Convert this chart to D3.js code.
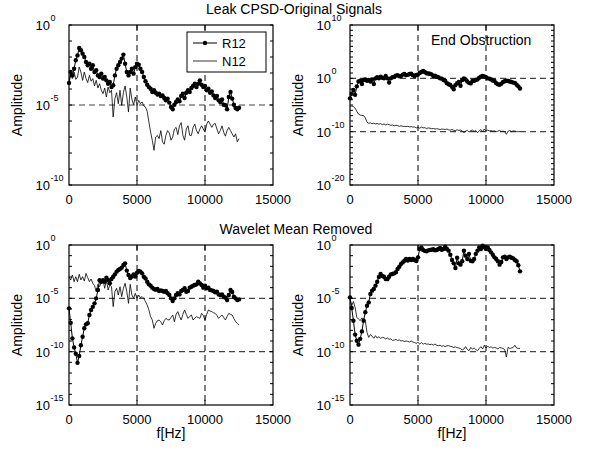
<!DOCTYPE html>
<html><head><meta charset="utf-8">
<script src="https://cdn.jsdelivr.net/npm/d3@7"></script>
<style>
body{margin:0;background:#fff}
text{font-family:Arial,"Liberation Sans",sans-serif;fill:#000}
</style>
</head><body><svg id="c" width="589" height="455"></svg>
<script>
// Frequency bins (Hz)
const freqHz = [0,125,250,375,500,625,750,875,1000,1125,1250,1375,1500,1625,1750,1875,2000,2125,2250,2375,2500,2625,2750,2875,3000,3125,3250,3375,3500,3625,3750,3875,4000,4125,4250,4375,4500,4625,4750,4875,5000,5125,5250,5375,5500,5625,5750,5875,6000,6125,6250,6375,6500,6625,6750,6875,7000,7125,7250,7375,7500,7625,7750,7875,8000,8125,8250,8375,8500,8625,8750,8875,9000,9125,9250,9375,9500,9625,9750,9875,10000,10125,10250,10375,10500,10625,10750,10875,11000,11125,11250,11375,11500,11625,11750,11875,12000,12125,12250,12375,12500];

// Amplitudes stored as log10(amplitude)
const leakR12Log10 = [
-3.62,-2.94,-3.15,-2.73,-2.2,-1.9,-1.44,-1.58,
-1.79,-2.0,-2.31,-2.52,-2.42,-2.73,-2.52,-2.94,
-2.83,-3.15,-3.25,-3.04,-3.35,-3.25,-3.46,-3.67,
-3.56,-3.88,-3.77,-3.15,-2.73,-2.52,-2.31,-2.1,
-1.85,-2.42,-2.94,-3.15,-2.94,-2.73,-3.04,-2.63,
-2.42,-2.48,-2.73,-2.94,-3.25,-3.52,-3.73,-3.88,
-3.98,-4.19,-4.08,-4.23,-4.35,-4.29,-4.44,-4.4,
-4.56,-4.71,-4.6,-4.85,-5.13,-5.27,-4.98,-4.81,
-4.65,-4.77,-4.44,-4.29,-4.56,-4.23,-4.08,-4.19,
-3.94,-3.81,-3.67,-3.88,-3.67,-3.46,-3.73,-3.88,
-3.81,-4.08,-3.98,-4.23,-4.15,-4.4,-4.56,-4.44,
-4.71,-4.81,-4.65,-4.98,-5.02,-5.27,-4.5,-4.19,
-4.6,-4.98,-5.19,-5.27,-5.17];
const leakN12Log10 = [
-3.67,-3.04,-3.35,-2.94,-3.4,-3.25,-2.63,-2.94,
-3.46,-2.94,-3.35,-3.6,-3.15,-3.52,-3.35,-3.81,
-3.46,-3.94,-3.67,-4.08,-4.29,-3.94,-4.5,-3.88,
-4.23,-4.08,-5.75,-4.6,-4.23,-4.92,-4.08,-5.02,
-4.23,-3.81,-4.5,-5.44,-3.94,-4.65,-4.98,-4.5,
-5.02,-4.71,-4.92,-4.81,-5.06,-5.13,-5.4,-6.06,
-6.69,-7.21,-7.83,-7.0,-6.9,-7.1,-6.6,-7.3,
-7.45,-6.9,-6.6,-6.75,-7.2,-7.0,-6.5,-6.4,
-6.85,-6.3,-6.1,-6.9,-7.2,-6.5,-6.3,-6.9,
-6.9,-6.4,-6.2,-6.6,-6.8,-6.5,-6.3,-6.5,
-6.7,-6.2,-6.0,-6.2,-6.4,-6.2,-6.15,-6.5,
-6.8,-6.6,-6.3,-6.7,-6.95,-6.6,-6.4,-6.6,
-6.8,-7.0,-6.8,-7.3,-7.1];
const endR12Log10 = [
-3.75,-2.9,-2.2,-3.1,-1.5,-0.6,-0.45,-1.05,
-0.3,-0.2,-0.45,-0.3,-0.6,-0.2,-1.05,0.0,
0.2,0.0,0.3,0.1,0.0,0.45,0.0,-0.8,
0.0,0.2,0.3,0.5,0.6,0.4,0.45,0.7,
0.8,0.6,0.65,0.8,0.85,0.6,0.45,0.65,
0.7,1.0,1.2,1.4,1.2,0.95,0.9,0.85,
0.75,0.45,0.5,0.3,0.2,0.0,-0.05,-0.3,
-0.45,-0.9,-1.1,-1.25,-1.6,-2.05,-1.3,-0.9,
-0.7,-1.4,-0.3,0.0,-0.2,-0.6,-0.85,-0.95,
-0.5,-0.45,-0.3,-0.2,0.1,0.3,0.45,0.35,
0.2,0.0,-0.05,-0.2,-0.4,-0.5,-0.9,-1.1,
-1.2,-1.0,-0.7,-0.55,-0.45,-0.5,-0.6,-0.7,
-0.8,-0.85,-1.2,-1.5,-1.9];
const endN12Log10 = [
-5.4,-5.2,-5.3,-5.6,-6.2,-6.7,-6.9,-6.95,
-7.0,-7.4,-8.2,-8.45,-8.35,-8.5,-8.4,-8.55,
-8.45,-8.6,-8.5,-8.7,-8.55,-8.75,-8.6,-8.7,
-8.8,-8.75,-8.9,-8.8,-8.85,-9.0,-8.9,-9.0,
-9.0,-9.05,-9.0,-9.1,-9.05,-9.15,-9.1,-9.3,
-9.2,-9.35,-9.15,-9.3,-9.25,-9.4,-9.3,-9.35,
-9.45,-9.4,-9.5,-9.45,-9.5,-9.6,-9.5,-9.55,
-9.6,-9.5,-9.65,-9.7,-9.6,-9.75,-9.8,-9.65,
-9.75,-9.7,-9.85,-10.2,-9.9,-9.75,-10.1,-9.8,
-9.7,-9.95,-9.8,-10.2,-9.85,-9.6,-10.0,-9.5,
-9.95,-9.7,-9.85,-9.8,-9.9,-9.85,-10.0,-9.9,
-9.8,-9.95,-9.9,-10.0,-10.5,-9.9,-9.8,-10.0,
-9.85,-9.9,-10.0,-10.0,-10.0];
const wavLeakR12Log10 = [
-5.94,-7.3,-8.75,-9.6,-10.2,-11.05,-10.4,-9.4,
-8.6,-7.8,-7.44,-7.34,-6.56,-6.1,-5.8,-5.47,
-5.0,-4.22,-3.3,-3.44,-3.3,-3.44,-3.06,-3.3,
-3.59,-3.19,-2.97,-2.75,-2.5,-2.34,-2.25,-2.13,
-1.88,-1.72,-2.4,-2.81,-3.1,-2.95,-2.75,-2.95,
-2.6,-2.44,-2.5,-2.66,-2.97,-3.13,-3.44,-3.69,
-3.81,-4.0,-4.13,-4.2,-4.13,-4.31,-4.25,-4.31,
-4.38,-4.31,-4.53,-4.69,-5.0,-5.25,-5.0,-4.69,
-4.53,-4.63,-4.31,-4.22,-4.06,-4.38,-4.31,-4.0,
-3.91,-3.81,-3.75,-3.69,-3.44,-3.6,-3.75,-4.0,
-3.81,-4.06,-4.0,-4.22,-4.25,-4.31,-4.44,-4.38,
-4.63,-4.69,-4.63,-4.84,-4.94,-5.16,-4.69,-4.22,
-4.4,-4.84,-5.0,-5.16,-5.1];
const wavLeakN12Log10 = [
-2.97,-3.28,-2.81,-3.44,-2.97,-3.44,-2.75,-3.28,
-2.97,-3.38,-2.66,-3.06,-3.44,-3.19,-3.59,-3.81,
-4.38,-3.69,-3.91,-3.44,-3.28,-4.06,-3.28,-4.22,
-3.75,-3.91,-5.78,-4.38,-4.06,-4.69,-3.91,-4.84,
-4.06,-3.59,-4.38,-5.47,-3.69,-4.69,-5.0,-4.53,
-5.0,-4.69,-4.94,-4.84,-5.0,-5.31,-5.63,-6.09,
-6.72,-7.03,-7.81,-7.34,-7.1,-7.03,-7.2,-7.5,
-7.1,-6.88,-7.0,-7.03,-6.8,-6.56,-7.19,-6.5,
-6.25,-6.7,-7.03,-6.5,-6.09,-6.5,-6.88,-6.7,
-6.56,-7.03,-6.85,-6.72,-6.8,-6.88,-6.41,-6.6,
-7.03,-6.5,-6.09,-6.2,-6.25,-6.35,-6.41,-6.6,
-6.88,-6.7,-6.56,-6.8,-7.03,-6.7,-6.41,-6.5,
-6.56,-6.9,-7.19,-7.34,-7.5];
const wavEndR12Log10 = [
-4.91,-5.9,-7.1,-8.4,-8.97,-9.34,-8.8,-8.1,
-7.09,-6.31,-5.69,-5.38,-4.59,-4.28,-4.13,-3.81,
-3.45,-3.0,-2.72,-2.9,-2.97,-3.19,-3.2,-2.97,
-2.75,-2.72,-2.66,-2.56,-2.25,-2.03,-1.78,-1.63,
-1.47,-1.31,-1.45,-1.31,-1.41,-1.31,-1.41,-1.5,
-1.16,-0.38,-0.22,-0.47,-0.55,-0.59,-0.5,-0.47,
-0.45,-0.4,-0.5,-0.47,-0.38,-0.28,-0.45,-0.38,
-0.16,-0.38,-0.53,-0.91,-1.41,-1.72,-2.16,-1.2,
-1.72,-1.84,-1.53,-0.53,-1.0,-1.31,-0.84,-1.47,
-1.53,-1.31,-0.84,-0.53,-0.22,-0.38,-0.06,-0.22,
-0.38,-0.22,-0.47,-0.69,-0.91,-1.16,-1.31,-1.53,
-1.84,-1.6,-1.16,-1.09,-1.31,-1.16,-1.09,-1.2,
-1.25,-1.4,-1.53,-1.9,-2.47];
const wavEndN12Log10 = [
-5.06,-5.69,-5.3,-5.84,-6.78,-6.94,-7.09,-6.84,
-6.94,-7.09,-8.2,-8.66,-8.4,-8.55,-8.75,-8.5,
-8.72,-8.6,-8.75,-8.65,-8.7,-8.8,-8.72,-8.85,
-8.8,-8.95,-8.91,-8.85,-8.95,-8.9,-9.0,-8.97,
-9.05,-9.0,-9.03,-9.1,-9.0,-9.1,-9.15,-9.22,
-9.13,-9.28,-9.15,-9.3,-9.22,-9.3,-9.28,-9.34,
-9.3,-9.38,-9.28,-9.4,-9.44,-9.4,-9.5,-9.44,
-9.53,-9.45,-9.44,-9.5,-9.53,-9.6,-9.55,-9.62,
-9.66,-9.7,-9.84,-9.75,-9.53,-9.8,-9.91,-9.6,
-9.75,-9.66,-9.8,-9.91,-9.7,-9.53,-9.75,-9.4,
-9.66,-9.5,-9.6,-9.55,-9.66,-9.6,-9.65,-9.75,
-9.6,-9.65,-9.7,-9.8,-10.5,-9.6,-9.7,-9.65,
-9.6,-9.4,-9.66,-9.7,-9.7];

const xTickValues = [0,5000,10000,15000];
const xGridValues = [5000,10000];
const seriesNames = ["R12","N12"];
const titles = ["Leak CPSD-Original Signals","Wavelet Mean Removed"];

const panels = [
  {x0:69, y0:25, yExp:[-10,0], yLabelExp:[0,-5,-10], yGridExp:[-5], r12:leakR12Log10, n12:leakN12Log10, legend:true},
  {x0:350, y0:25, yExp:[-20,10], yLabelExp:[10,0,-10,-20], yGridExp:[0,-10], r12:endR12Log10, n12:endN12Log10, note:"End Obstruction"},
  {x0:69, y0:245, yExp:[-15,0], yLabelExp:[0,-5,-10,-15], yGridExp:[-5,-10], r12:wavLeakR12Log10, n12:wavLeakN12Log10, xlabel:true},
  {x0:350, y0:245, yExp:[-15,0], yLabelExp:[0,-5,-10,-15], yGridExp:[-5,-10], r12:wavEndR12Log10, n12:wavEndN12Log10, xlabel:true}
];
const W = 204, H = 160;
const svg = d3.select("#c");

// titles first so tick labels draw over them
svg.append("text").attr("x",294).attr("y",13.5).attr("text-anchor","middle").attr("font-size",14).text(titles[0]);
svg.append("text").attr("x",296).attr("y",234).attr("text-anchor","middle").attr("font-size",14).text(titles[1]);

panels.forEach(p => {
  const g = svg.append("g");
  const x = d3.scaleLinear().domain([0,15000]).range([p.x0, p.x0+W]);
  const y = d3.scaleLog().domain([Math.pow(10,p.yExp[0]), Math.pow(10,p.yExp[1])]).range([p.y0+H, p.y0]);
  const yE = e => y(Math.pow(10,e));

  // grid
  g.selectAll(".vg").data(xGridValues).enter().append("line")
    .attr("x1",d=>x(d)).attr("x2",d=>x(d)).attr("y1",p.y0).attr("y2",p.y0+H)
    .attr("stroke","#000").attr("stroke-width",1).attr("stroke-dasharray","6,4");
  g.selectAll(".hg").data(p.yGridExp).enter().append("line")
    .attr("x1",p.x0).attr("x2",p.x0+W).attr("y1",d=>yE(d)).attr("y2",d=>yE(d))
    .attr("stroke","#444").attr("stroke-width",1.2).attr("stroke-dasharray","6,4");

  const pts = s => freqHz.map((f,i)=>[f, Math.pow(10,s[i])]);
  const line = d3.line().x(d=>x(d[0])).y(d=>y(d[1]));
  g.append("path").datum(pts(p.n12)).attr("d",line).attr("fill","none").attr("stroke","#000").attr("stroke-width",0.8);
  g.append("path").datum(pts(p.r12)).attr("d",line).attr("fill","none").attr("stroke","#000").attr("stroke-width",1);
  g.selectAll(".dot").data(pts(p.r12)).enter().append("circle")
    .attr("cx",d=>x(d[0])).attr("cy",d=>y(d[1])).attr("r",2.2).attr("fill","#000");

  // frame
  g.append("rect").attr("x",p.x0).attr("y",p.y0).attr("width",W).attr("height",H)
    .attr("fill","none").attr("stroke","#000").attr("stroke-width",1.2);

  // y minor ticks each decade
  const decs = d3.range(p.yExp[0], p.yExp[1]+1);
  decs.forEach(e=>{
    const yy = yE(e);
    g.append("line").attr("x1",p.x0).attr("x2",p.x0+3).attr("y1",yy).attr("y2",yy).attr("stroke","#000");
    g.append("line").attr("x1",p.x0+W-3).attr("x2",p.x0+W).attr("y1",yy).attr("y2",yy).attr("stroke","#000");
  });
  xGridValues.forEach(v=>{
    g.append("line").attr("x1",x(v)).attr("x2",x(v)).attr("y1",p.y0+H).attr("y2",p.y0+H-5).attr("stroke","#000");
    g.append("line").attr("x1",x(v)).attr("x2",x(v)).attr("y1",p.y0).attr("y2",p.y0+5).attr("stroke","#000");
  });

  // y tick labels 10^e
  p.yLabelExp.forEach(e=>{
    const yy = yE(e);
    g.append("text").attr("x",p.x0-19).attr("y",yy+5).attr("text-anchor","end").attr("font-size",13).text("10");
    g.append("text").attr("x",p.x0-18.5).attr("y",yy-4).attr("text-anchor","start").attr("font-size",9).text(String(e));
  });
  // x tick labels
  xTickValues.forEach(v=>{
    g.append("text").attr("x",x(v)).attr("y",p.y0+H+19).attr("text-anchor","middle").attr("font-size",13).text(v);
  });
  // y axis label
  g.append("text").attr("transform",`translate(${p.x0-47},${p.y0+H/2}) rotate(-90)`)
    .attr("text-anchor","middle").attr("font-size",14).text("Amplitude");
  if (p.xlabel) {
    g.append("text").attr("x",p.x0+W/2).attr("y",p.y0+H+33).attr("text-anchor","middle").attr("font-size",14).text("f[Hz]");
  }
  if (p.note) {
    g.append("text").attr("x",p.x0+81).attr("y",p.y0+20).attr("font-size",14).text(p.note);
  }
  if (p.legend) {
    const lg = g.append("g");
    lg.append("rect").attr("x",187).attr("y",32).attr("width",79).attr("height",40).attr("fill","#fff").attr("stroke","#000").attr("stroke-width",1);
    seriesNames.forEach((nm,i)=>{
      const ly = 43 + i*18;
      lg.append("line").attr("x1",193).attr("x2",217).attr("y1",ly).attr("y2",ly).attr("stroke","#000").attr("stroke-width", i===0?1:0.8);
      if (i===0) lg.append("circle").attr("cx",205).attr("cy",ly).attr("r",2.2).attr("fill","#000");
      lg.append("text").attr("x",222).attr("y",ly+5).attr("font-size",13).text(nm);
    });
  }
});
</script>
</body></html>
